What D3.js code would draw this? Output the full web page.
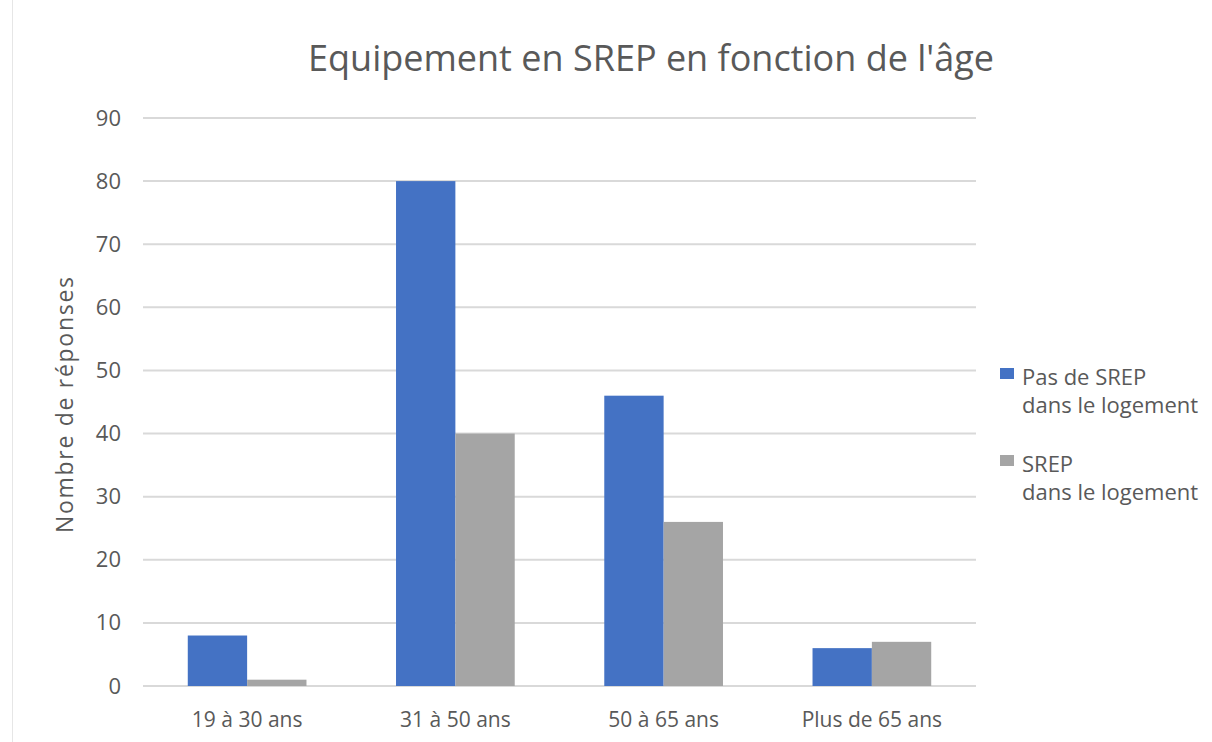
<!DOCTYPE html>
<meta charset="utf-8">
<style>
body { margin: 0; background: #fff; }
svg { font-family: "Open Sans", sans-serif; }
.grid line { stroke: #d9d9d9; stroke-width: 2px; }
.axis text { fill: #595959; }
</style>
<svg width="1212" height="742"></svg>
<script src="https://cdn.jsdelivr.net/npm/d3@7"></script>
<script>

var categories = ["19 à 30 ans", "31 à 50 ans", "50 à 65 ans", "Plus de 65 ans"];
var seriesNames = ["Pas de SREP dans le logement", "SREP dans le logement"];
var pasDeSrep = [8, 80, 46, 6];
var avecSrep = [1, 40, 26, 7];
var yTicks = [0, 10, 20, 30, 40, 50, 60, 70, 80, 90];
var colors = ["#4472c4", "#a5a5a5"];

var svg = d3.select("svg");

var plot = {left: 143, right: 976, top: 118, bottom: 686};

var x0 = d3.scaleBand()
	.domain(categories)
	.range([plot.left, plot.right])
	.paddingInner(0.43)
	.paddingOuter(0.215);

var x1 = d3.scaleBand()
	.domain(seriesNames)
	.range([0, x0.bandwidth()]);

var y = d3.scaleLinear()
	.domain([0, 90])
	.range([plot.bottom, plot.top]);

var color = d3.scaleOrdinal().domain(seriesNames).range(colors);

// faint frame line on the left
svg.append("line")
	.attr("x1", 12.5).attr("x2", 12.5)
	.attr("y1", 0).attr("y2", 742)
	.attr("stroke", "#e6e6e6");

// gridlines
svg.append("g")
	.attr("class", "grid")
	.selectAll("line")
	.data(yTicks)
	.enter().append("line")
		.attr("x1", plot.left)
		.attr("x2", plot.right)
		.attr("y1", function(d) { return y(d); })
		.attr("y2", function(d) { return y(d); });

// y axis labels
var yAxis = d3.axisLeft(y).tickValues(yTicks).tickSize(0).tickPadding(22);
svg.append("g")
	.attr("class", "axis")
	.attr("transform", "translate(" + plot.left + ",0)")
	.call(yAxis)
	.call(function(g) { g.select(".domain").remove(); })
	.selectAll("text")
		.attr("font-size", 22)
		.attr("font-family", "Open Sans, sans-serif");

// x axis labels
var xAxis = d3.axisBottom(x0).tickSize(0).tickPadding(26);
svg.append("g")
	.attr("class", "axis")
	.attr("transform", "translate(0," + plot.bottom + ")")
	.call(xAxis)
	.call(function(g) { g.select(".domain").remove(); })
	.selectAll("text")
		.attr("font-size", 21)
		.attr("font-family", "Open Sans, sans-serif");

// bars
var rows = categories.map(function(c, i) {
	return {cat: c, values: [
		{name: seriesNames[0], value: pasDeSrep[i]},
		{name: seriesNames[1], value: avecSrep[i]}
	]};
});

svg.append("g")
	.selectAll("g")
	.data(rows)
	.enter().append("g")
		.attr("transform", function(d) { return "translate(" + x0(d.cat) + ",0)"; })
	.selectAll("rect")
	.data(function(d) { return d.values; })
	.enter().append("rect")
		.attr("x", function(d) { return x1(d.name); })
		.attr("y", function(d) { return y(d.value); })
		.attr("width", x1.bandwidth())
		.attr("height", function(d) { return y(0) - y(d.value); })
		.attr("fill", function(d) { return color(d.name); });

// title
svg.append("text")
	.attr("x", 651)
	.attr("y", 71)
	.attr("text-anchor", "middle")
	.attr("font-size", 36)
	.attr("fill", "#595959")
	.text("Equipement en SREP en fonction de l'âge");

// y axis title
svg.append("text")
	.attr("transform", "translate(73,405) rotate(-90)")
	.attr("text-anchor", "middle")
	.attr("font-size", 23)
	.attr("textLength", 256)
	.attr("fill", "#595959")
	.text("Nombre de réponses");

// legend
var legendLines = [["Pas de SREP", "dans le logement"], ["SREP", "dans le logement"]];
var legend = svg.append("g")
	.selectAll("g")
	.data(seriesNames)
	.enter().append("g")
		.attr("transform", function(d, i) { return "translate(1000," + (385 + i * 87) + ")"; });

legend.append("rect")
	.attr("x", 0)
	.attr("y", -17)
	.attr("width", 14)
	.attr("height", 11)
	.attr("fill", function(d) { return color(d); });

legend.append("text")
	.attr("x", 22)
	.attr("y", 0)
	.attr("font-size", 22)
	.attr("fill", "#595959")
	.selectAll("tspan")
	.data(function(d, i) { return legendLines[i]; })
	.enter().append("tspan")
		.attr("x", 22)
		.attr("dy", function(d, i) { return i === 0 ? 0 : 28; })
		.text(function(d) { return d; });

</script>
